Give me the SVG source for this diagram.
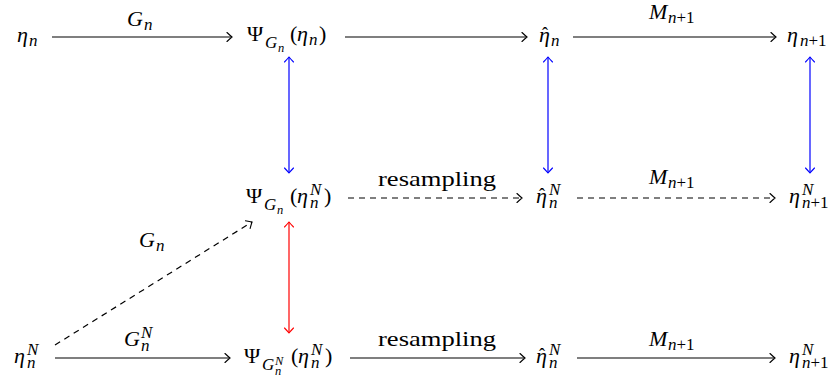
<svg xmlns="http://www.w3.org/2000/svg" width="835" height="382" viewBox="0 0 835 382">
<style>
text{font-family:'Liberation Serif','Times New Roman',serif;fill:#000}
.m{font-size:22px}
.i{font-style:italic}
.up{font-style:normal}
.s{font-size:17px}
.ss{font-size:12.5px}
.hat{font-size:18px;font-style:normal}
.ln{fill:none;stroke:#000;stroke-width:1.2}
.d{stroke-dasharray:6 5}
.b{stroke:#0000ff}
.r{stroke:#ff0000}
</style>
<defs>
<marker id="ahk" viewBox="-6 -5 7 10" refX="0" refY="0" markerWidth="7" markerHeight="10" markerUnits="userSpaceOnUse" orient="auto-start-reverse">
<path d="M-5,-4.5 Q-1.6,-1.3 0,0 Q-1.6,1.3 -5,4.5" fill="none" stroke="#000" stroke-width="1.1" stroke-linecap="round"/>
</marker>
<marker id="ahb" viewBox="-6 -5 7 10" refX="0" refY="0" markerWidth="7" markerHeight="10" markerUnits="userSpaceOnUse" orient="auto-start-reverse">
<path d="M-5,-4.5 Q-1.6,-1.3 0,0 Q-1.6,1.3 -5,4.5" fill="none" stroke="#0000ff" stroke-width="1.1" stroke-linecap="round"/>
</marker>
<marker id="ahr" viewBox="-6 -5 7 10" refX="0" refY="0" markerWidth="7" markerHeight="10" markerUnits="userSpaceOnUse" orient="auto-start-reverse">
<path d="M-5,-4.5 Q-1.6,-1.3 0,0 Q-1.6,1.3 -5,4.5" fill="none" stroke="#ff0000" stroke-width="1.1" stroke-linecap="round"/>
</marker>
</defs>

<g font-family="Liberation Serif, serif">
<g id="connectors">
<line class="ln" x1="52" y1="37" x2="232" y2="37" marker-end="url(#ahk)"/>
<line class="ln" x1="345" y1="37" x2="527" y2="37" marker-end="url(#ahk)"/>
<line class="ln" x1="573" y1="37" x2="776" y2="37" marker-end="url(#ahk)"/>
<line class="ln d" x1="348" y1="198" x2="522" y2="198" marker-end="url(#ahk)"/>
<line class="ln d" x1="577" y1="198" x2="775" y2="198" marker-end="url(#ahk)"/>
<line class="ln" x1="55" y1="358" x2="230" y2="358" marker-end="url(#ahk)"/>
<line class="ln" x1="350" y1="358" x2="525" y2="358" marker-end="url(#ahk)"/>
<line class="ln" x1="577" y1="358" x2="775" y2="358" marker-end="url(#ahk)"/>
<line class="ln d" x1="55" y1="345" x2="252" y2="222" marker-end="url(#ahk)"/>
<line class="ln b" x1="289" y1="57" x2="289" y2="173" marker-start="url(#ahb)" marker-end="url(#ahb)"/>
<line class="ln b" x1="548" y1="57" x2="548" y2="173" marker-start="url(#ahb)" marker-end="url(#ahb)"/>
<line class="ln b" x1="810" y1="57" x2="810" y2="173" marker-start="url(#ahb)" marker-end="url(#ahb)"/>
<line class="ln r" x1="289" y1="222" x2="289" y2="333" marker-start="url(#ahr)" marker-end="url(#ahr)"/>
<text class="m i" x="127" y="26">G<tspan class="s" x="144" y="30">n</tspan></text>
<text class="m i" x="649" y="19">M<tspan class="s" x="668" y="23">n</tspan><tspan class="s up">+1</tspan></text>
<text class="m" x="378" y="186" textLength="118" lengthAdjust="spacingAndGlyphs">resampling</text>
<text class="m i" x="649" y="184">M<tspan class="s" x="668" y="188">n</tspan><tspan class="s up">+1</tspan></text>
<text class="m i" x="124" y="346">G<tspan class="s" x="141" y="338">N</tspan><tspan class="s" x="141" y="351">n</tspan></text>
<text class="m" x="378" y="346" textLength="118" lengthAdjust="spacingAndGlyphs">resampling</text>
<text class="m i" x="649" y="346">M<tspan class="s" x="668" y="350">n</tspan><tspan class="s up">+1</tspan></text>
<text class="m i" x="139" y="247">G<tspan class="s" x="156" y="251">n</tspan></text>
</g>

<g id="eta_n">
<text class="m i" x="17" y="42">η<tspan class="s" x="29" y="46">n</tspan></text>
</g>
<g id="psi_eta_n">
<text class="m" x="247" y="41">Ψ<tspan class="s i" x="265" y="48">G</tspan><tspan class="ss i" x="278" y="52">n</tspan><tspan x="290" y="41">(</tspan><tspan class="i" x="297" y="41">η</tspan><tspan class="s i" x="309" y="45">n</tspan><tspan x="319" y="41">)</tspan></text>
</g>
<g id="etahat_n">
<text class="m i" x="539" y="42">η<tspan class="hat" x="542" y="40">ˆ</tspan><tspan class="s" x="551" y="46">n</tspan></text>
</g>
<g id="eta_n1">
<text class="m i" x="787" y="42">η<tspan class="s" x="800" y="46">n</tspan><tspan class="s up">+1</tspan></text>
</g>

<g id="psi_etaN_n">
<text class="m" x="246" y="203">Ψ<tspan class="s i" x="264" y="210">G</tspan><tspan class="ss i" x="277" y="214">n</tspan><tspan x="290" y="203">(</tspan><tspan class="i" x="297" y="203">η</tspan><tspan class="s i" x="310" y="195">N</tspan><tspan class="s i" x="310" y="208">n</tspan><tspan x="324" y="203">)</tspan></text>
</g>
<g id="etahatN_n">
<text class="m i" x="536" y="203">η<tspan class="hat" x="539" y="201">ˆ</tspan><tspan class="s" x="549" y="195">N</tspan><tspan class="s" x="549" y="208">n</tspan></text>
</g>
<g id="etaN_n1">
<text class="m i" x="789" y="203">η<tspan class="s" x="802" y="195">N</tspan><tspan class="s" x="802" y="208">n</tspan><tspan class="s up">+1</tspan></text>
</g>

<g id="etaN_n">
<text class="m i" x="14" y="363">η<tspan class="s" x="27" y="355">N</tspan><tspan class="s" x="27" y="368">n</tspan></text>
</g>
<g id="psiN_etaN_n">
<text class="m" x="244" y="363">Ψ<tspan class="s i" x="262" y="370">G</tspan><tspan class="ss i" x="275" y="365">N</tspan><tspan class="ss i" x="275" y="375">n</tspan><tspan x="291" y="363">(</tspan><tspan class="i" x="298" y="363">η</tspan><tspan class="s i" x="311" y="355">N</tspan><tspan class="s i" x="311" y="368">n</tspan><tspan x="325" y="363">)</tspan></text>
</g>
<g id="etahatN_n_b">
<text class="m i" x="536" y="363">η<tspan class="hat" x="539" y="361">ˆ</tspan><tspan class="s" x="549" y="355">N</tspan><tspan class="s" x="549" y="368">n</tspan></text>
</g>
<g id="etaN_n1_b">
<text class="m i" x="789" y="363">η<tspan class="s" x="802" y="355">N</tspan><tspan class="s" x="802" y="368">n</tspan><tspan class="s up">+1</tspan></text>
</g>
</g>
</svg>
